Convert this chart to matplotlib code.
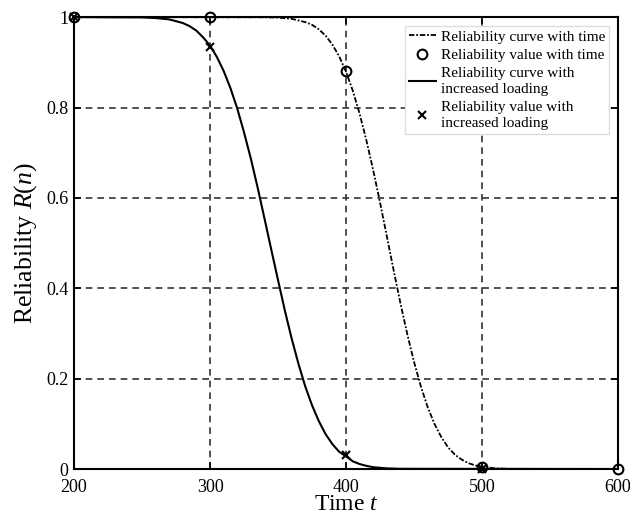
import matplotlib
matplotlib.use("Agg")
import matplotlib.pyplot as plt

plt.rcParams['font.family'] = ['Liberation Serif', 'DejaVu Serif']
plt.rcParams['mathtext.fontset'] = 'custom'
plt.rcParams['mathtext.rm'] = 'Liberation Serif'
plt.rcParams['mathtext.it'] = 'Liberation Serif:italic'

# reliability curve with time
t_time = [200, 340, 350, 360, 370, 375, 380, 385, 390, 395, 400, 405, 410,
          415, 420, 425, 430, 435, 440, 445, 450, 455, 460, 465, 470, 475,
          480, 485, 490, 495, 500, 510, 520, 600]
r_time = [1.0, 0.9996, 0.9989, 0.9963, 0.989, 0.983, 0.973, 0.959, 0.939,
          0.913, 0.879, 0.837, 0.786, 0.727, 0.661, 0.590, 0.515, 0.440,
          0.367, 0.299, 0.237, 0.183, 0.137, 0.100, 0.071, 0.048, 0.032,
          0.021, 0.013, 0.008, 0.005, 0.0014, 0.0004, 0.0]

# reliability curve with increased loading
t_load = [200, 250, 260, 270, 280, 285, 290, 295, 300, 305, 310, 315, 320,
          325, 330, 335, 340, 345, 350, 355, 360, 365, 370, 375, 380, 385,
          390, 395, 400, 405, 410, 415, 420, 430, 440, 600]
r_load = [1.0, 0.9994, 0.998, 0.995, 0.987, 0.980, 0.970, 0.955, 0.937,
          0.912, 0.881, 0.843, 0.798, 0.745, 0.687, 0.623, 0.555, 0.486,
          0.418, 0.351, 0.289, 0.233, 0.183, 0.141, 0.106, 0.077, 0.055,
          0.038, 0.028, 0.017, 0.011, 0.007, 0.004, 0.0014, 0.0005, 0.0]

# discrete values
pt_time = [200, 300, 400, 500, 600]
pv_time = [1.0, 1.0, 0.88, 0.005, 0.0]
pt_load = [200, 300, 400, 500]
pv_load = [1.0, 0.935, 0.03, 0.0]

fig = plt.figure(figsize=(6.3, 5.19), dpi=100)
ax = fig.add_axes([0.1175, 0.0963, 0.8635, 0.8707])

ax.plot(t_time, r_time, color='black', lw=1.3, dashes=(3, 1, 1, 1),
        label='Reliability curve with time')
ax.plot(pt_time, pv_time, 'o', mfc='none', mec='black', ms=7, mew=1.5,
        clip_on=False, zorder=5, label='Reliability value with time')
ax.plot(t_load, r_load, color='black', lw=1.5,
        label='Reliability curve with\nincreased loading')
ax.plot(pt_load, pv_load, 'x', color='black', ms=6, mew=1.5,
        clip_on=False, zorder=5,
        label='Reliability value with\nincreased loading')

ax.set_xlim(200, 600)
ax.set_ylim(0, 1)
ax.set_xticks([200, 300, 400, 500, 600])
ax.set_yticks([0, 0.2, 0.4, 0.6, 0.8, 1])
ax.set_yticklabels(['0', '0.2', '0.4', '0.6', '0.8', '1'])
ax.grid(True, color='#333333', ls=(0, (4, 3)), lw=1.2)
ax.tick_params(direction='in', top=True, right=True, labelsize=13,
               length=5, width=1.2, pad=4)
ax.tick_params(axis='x', pad=7)
for s in ax.spines.values():
    s.set_linewidth(1.5)

ax.set_xlabel('Time $t$', fontsize=17, labelpad=-1)
ax.set_ylabel('Reliability $R(n)$', fontsize=18.5, labelpad=5)

leg = ax.legend(loc='upper right', fontsize=11, handlelength=1.8,
                handletextpad=0.3, labelspacing=0.3, borderpad=0.25,
                borderaxespad=0.6, fancybox=False, framealpha=1)
for txt in leg.get_texts():
    txt.set_linespacing(1.35)
leg.get_frame().set_edgecolor('#dddddd')
leg.get_frame().set_linewidth(1.0)

fig.savefig('out.png', dpi=100)
